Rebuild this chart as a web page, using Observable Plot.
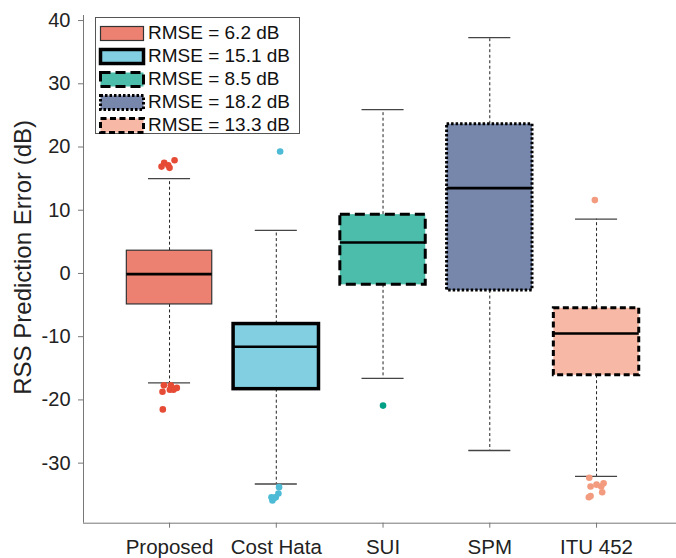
<!DOCTYPE html>
<html>
<head>
<meta charset="utf-8">
<script src="https://cdn.jsdelivr.net/npm/d3@7"></script>
<script src="https://cdn.jsdelivr.net/npm/@observablehq/plot@0.6"></script>
<style>
  body { margin: 0; background: white; }
  #wrap { position: relative; width: 676px; height: 558px; font-family: "Liberation Sans", Arial, sans-serif; }
  #legend { position: absolute; left: 95px; top: 16.5px; width: 205px; height: 117px; box-sizing: border-box;
            border: 1px solid #555; background: white; padding-top: 4px; }
  .row { display: flex; align-items: center; height: 23px; padding-left: 2px; }
  .row span { font-size: 19px; color: #111; margin-left: 2px; white-space: nowrap; }
</style>
</head>
<body>
<div id="wrap"><div id="legend"></div></div>
<script>
// ---- data ----
const models = ["Proposed", "Cost Hata", "SUI", "SPM", "ITU 452"];
const rmse = [6.2, 15.1, 8.5, 18.2, 13.3];
const q1 = [-4.9, -18.3, -1.8, -2.7, -16.1];
const median = [-0.1, -11.6, 4.9, 13.5, -9.5];
const q3 = [3.6, -8.0, 9.3, 23.6, -5.5];
const whiskerLow = [-17.3, -33.3, -16.6, -28.0, -32.1];
const whiskerHigh = [15.0, 6.8, 25.9, 37.3, 8.6];

// outliers: model index, value (dB), horizontal jitter (category units)
const outlierModel = [0,0,0,0,0, 0,0,0,0,0,0,0, 1, 1,1,1,1,1,1, 2, 4, 4,4,4,4,4,4,4,4];
const outlierValue = [16.9,17.5,17.1,16.7,17.9, -17.7,-17.7,-18.7,-18.4,-18.4,-18.1,-21.5,
                      19.3, -33.8,-34.8,-35.4,-35.4,-35.9,-35.5, -20.9,
                      11.6, -32.3,-33.7,-33.4,-33.7,-33.2,-34.6,-35.2,-35.4];
const outlierJitter = [-0.075,-0.05,-0.012,0,0.047, -0.053,0.012,-0.066,0.003,0.037,0.068,-0.063,
                       0.036, 0.026,0.02,-0.005,-0.045,-0.036,-0.02, 0,
                       -0.016, -0.068,-0.056,0,0.044,0.066,0.053,-0.056,-0.072];
const yTicks = [-30, -20, -10, 0, 10, 20, 30, 40];

// ---- styles ----
const colors = ["#E64B35", "#4DBBD5", "#00A087", "#3C5488", "#F39B7F"];
const boxStroke = [
  {stroke: "#333", strokeWidth: 1.2, dash: null},
  {stroke: "#000", strokeWidth: 3.5, dash: null},
  {stroke: "#000", strokeWidth: 3, dash: "10,5"},
  {stroke: "#000", strokeWidth: 3, dash: "2.5,2"},
  {stroke: "#000", strokeWidth: 3, dash: "6,3.5"}
];
const boxHalf = 0.4, capHalf = 0.197;
const yDomain = [-39.5, 40.8];
const xDomain = [0.194, 5.749];

const boxes = models.map((m, i) => ({
  model: m, pos: i + 1, q1: q1[i], med: median[i], q3: q3[i], lo: whiskerLow[i], hi: whiskerHigh[i], color: colors[i]
}));
const outliers = outlierValue.map((v, k) => ({
  pos: outlierModel[k] + 1 + outlierJitter[k], value: v, color: colors[outlierModel[k]]
}));

const font = "'Liberation Sans', Arial, sans-serif";
const marks = [
  Plot.ruleY([yDomain[0]], {stroke: "#777", strokeWidth: 1}),
  Plot.ruleX([xDomain[0]], {stroke: "#777", strokeWidth: 1}),
  Plot.axisY({ticks: yTicks, tickFormat: d => String(d), tickSize: 5, tickPadding: 8, fontSize: 20,
              label: null, stroke: "#777", fill: "#222"}),
  Plot.axisX({ticks: [1, 2, 3, 4, 5], tickFormat: d => models[d - 1], tickSize: 5, tickPadding: 11.5,
              fontSize: 20.5, label: null, stroke: "#777", fill: "#222"}),
  // whiskers
  Plot.ruleX(boxes, {x: "pos", y1: "q3", y2: "hi", stroke: "#222", strokeWidth: 1, strokeDasharray: "3,2.5"}),
  Plot.ruleX(boxes, {x: "pos", y1: "q1", y2: "lo", stroke: "#222", strokeWidth: 1, strokeDasharray: "3,2.5"}),
  Plot.ruleY(boxes, {y: "hi", x1: d => d.pos - capHalf, x2: d => d.pos + capHalf, stroke: "#444", strokeWidth: 1.3}),
  Plot.ruleY(boxes, {y: "lo", x1: d => d.pos - capHalf, x2: d => d.pos + capHalf, stroke: "#444", strokeWidth: 1.3})
];
boxes.forEach((b, i) => {
  const s = boxStroke[i];
  marks.push(Plot.rect([b], {
    x1: d => d.pos - boxHalf, x2: d => d.pos + boxHalf, y1: "q1", y2: "q3",
    fill: "color", fillOpacity: 0.7, stroke: s.stroke, strokeWidth: s.strokeWidth,
    strokeDasharray: s.dash ?? undefined
  }));
});
marks.push(
  Plot.ruleY(boxes, {y: "med", x1: d => d.pos - boxHalf, x2: d => d.pos + boxHalf, stroke: "#000", strokeWidth: 2.6}),
  Plot.dot(outliers, {x: "pos", y: "value", r: 3.3, fill: "color", stroke: null}),
  Plot.text(["RSS Prediction Error (dB)"], {frameAnchor: "left", textAnchor: "middle", lineAnchor: "middle",
            rotate: -90, dx: -60, dy: -12, fontSize: 24, fill: "#222"})
);

const chart = Plot.plot({
  width: 676, height: 558,
  marginLeft: 83, marginRight: 0, marginTop: 15, marginBottom: 35.3,
  style: {fontFamily: font, background: "white", color: "#222", overflow: "visible"},
  x: {domain: xDomain, axis: null},
  y: {domain: yDomain, axis: null},
  color: {type: "identity"},
  marks
});
document.getElementById("wrap").prepend(chart);

// ---- legend (HTML overlay) ----
const legend = document.getElementById("legend");
models.forEach((m, i) => {
  const s = boxStroke[i];
  const row = document.createElement("div");
  row.className = "row";
  const ns = "http://www.w3.org/2000/svg";
  const svg = document.createElementNS(ns, "svg");
  svg.setAttribute("width", 48); svg.setAttribute("height", 19);
  const r = document.createElementNS(ns, "rect");
  r.setAttribute("x", 2.5); r.setAttribute("y", 2.5); r.setAttribute("width", 43); r.setAttribute("height", 14);
  r.setAttribute("fill", colors[i]); r.setAttribute("fill-opacity", 0.7);
  r.setAttribute("stroke", s.stroke); r.setAttribute("stroke-width", s.strokeWidth);
  if (s.dash) r.setAttribute("stroke-dasharray", s.dash);
  svg.appendChild(r);
  const t = document.createElement("span");
  t.textContent = `RMSE = ${rmse[i]} dB`;
  row.appendChild(svg); row.appendChild(t);
  legend.appendChild(row);
});
</script>
</body>
</html>
